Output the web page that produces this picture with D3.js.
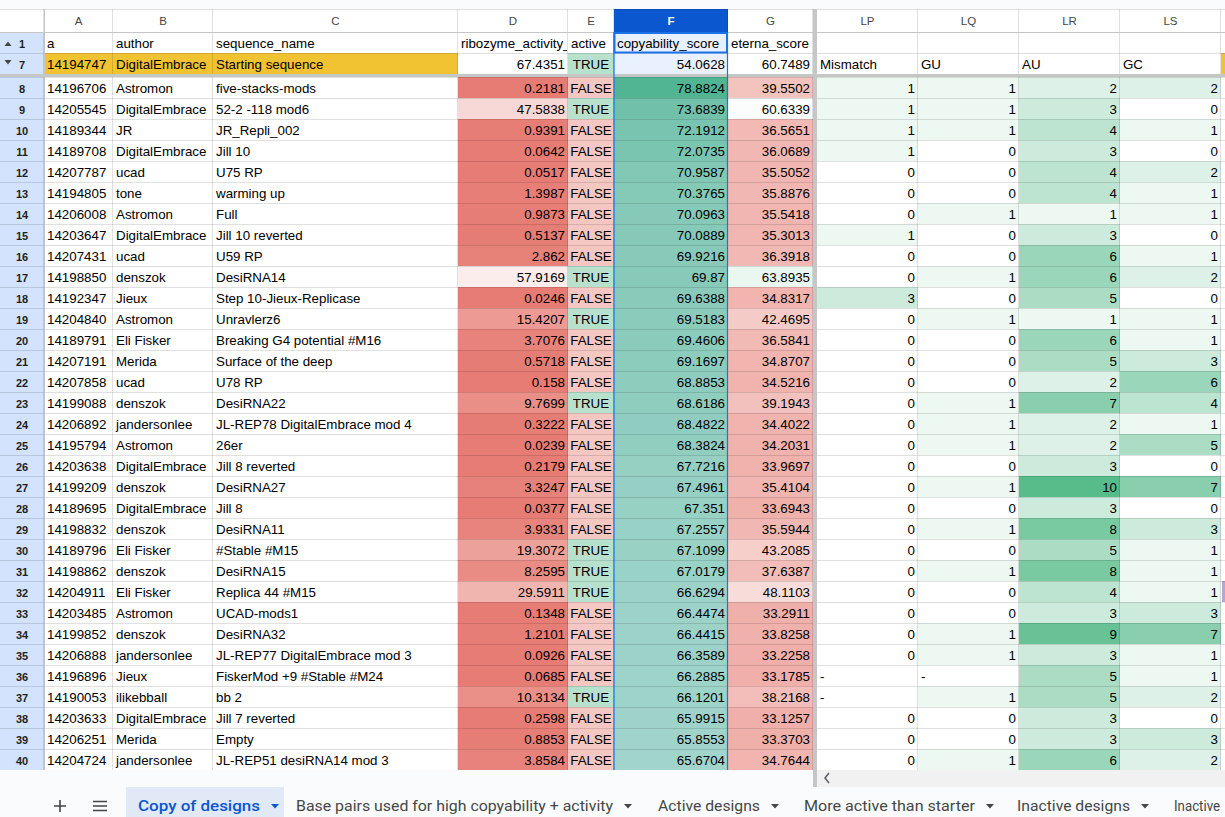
<!DOCTYPE html>
<html><head><meta charset="utf-8">
<script src="https://cdn.jsdelivr.net/npm/d3@7"></script>
<style>
body{margin:0;background:#f9fbfd;overflow:hidden}
svg{display:block;font-family:"Liberation Sans",Arial,sans-serif}
</style>
</head><body>
<svg id="c" width="1225" height="817"></svg>
<script>
// ---------------- DATA ----------------
const colLetters = ["A","B","C","D","E","F","G"];
const colLettersRight = ["LP","LQ","LR","LS"];
const headerLabels = ["a","author","sequence_name","ribozyme_activity_","active","copyability_score","eterna_score"];
const rightLabels = ["Mismatch","GU","AU","GC"];
const startValues = ["14194747","DigitalEmbrace","Starting sequence",67.4351,"TRUE",54.0628,60.7489];
const rowNumbers = d3.range(8, 41);
const ids = ["14196706","14205545","14189344","14189708","14207787","14194805","14206008","14203647","14207431","14198850","14192347","14204840","14189791","14207191","14207858","14199088","14206892","14195794","14203638","14199209","14189695","14198832","14189796","14198862","14204911","14203485","14199852","14206888","14196896","14190053","14203633","14206251","14204724"];
const authors = ["Astromon","DigitalEmbrace","JR","DigitalEmbrace","ucad","tone","Astromon","DigitalEmbrace","ucad","denszok","Jieux","Astromon","Eli Fisker","Merida","ucad","denszok","jandersonlee","Astromon","DigitalEmbrace","denszok","DigitalEmbrace","denszok","Eli Fisker","denszok","Eli Fisker","Astromon","denszok","jandersonlee","Jieux","ilikebball","DigitalEmbrace","Merida","jandersonlee"];
const names = ["five-stacks-mods","52-2 -118 mod6","JR_Repli_002","Jill 10","U75 RP","warming up","Full","Jill 10 reverted","U59 RP","DesiRNA14","Step 10-Jieux-Replicase","Unravlerz6","Breaking G4 potential #M16","Surface of the deep","U78 RP","DesiRNA22","JL-REP78 DigitalEmbrace mod 4","26er","Jill 8 reverted","DesiRNA27","Jill 8","DesiRNA11","#Stable #M15","DesiRNA15","Replica 44 #M15","UCAD-mods1","DesiRNA32","JL-REP77 DigitalEmbrace mod 3","FiskerMod +9 #Stable #M24","bb 2","Jill 7 reverted","Empty","JL-REP51 desiRNA14 mod 3"];
const activity = [0.2181,47.5838,0.9391,0.0642,0.0517,1.3987,0.9873,0.5137,2.862,57.9169,0.0246,15.4207,3.7076,0.5718,0.158,9.7699,0.3222,0.0239,0.2179,3.3247,0.0377,3.9331,19.3072,8.2595,29.5911,0.1348,1.2101,0.0926,0.0685,10.3134,0.2598,0.8853,3.8584];
const active = ["FALSE","TRUE","FALSE","FALSE","FALSE","FALSE","FALSE","FALSE","FALSE","TRUE","FALSE","TRUE","FALSE","FALSE","FALSE","TRUE","FALSE","FALSE","FALSE","FALSE","FALSE","FALSE","TRUE","TRUE","TRUE","FALSE","FALSE","FALSE","FALSE","TRUE","FALSE","FALSE","FALSE"];
const copyability = [78.8824,73.6839,72.1912,72.0735,70.9587,70.3765,70.0963,70.0889,69.9216,69.87,69.6388,69.5183,69.4606,69.1697,68.8853,68.6186,68.4822,68.3824,67.7216,67.4961,67.351,67.2557,67.1099,67.0179,66.6294,66.4474,66.4415,66.3589,66.2885,66.1201,65.9915,65.8553,65.6704];
const eterna = [39.5502,60.6339,36.5651,36.0689,35.5052,35.8876,35.5418,35.3013,36.3918,63.8935,34.8317,42.4695,36.5841,34.8707,34.5216,39.1943,34.4022,34.2031,33.9697,35.4104,33.6943,35.5944,43.2085,37.6387,48.1103,33.2911,33.8258,33.2258,33.1785,38.2168,33.1257,33.3703,34.7644];
const mismatch = [1,1,1,1,0,0,0,1,0,0,3,0,0,0,0,0,0,0,0,0,0,0,0,0,0,0,0,0,"-","-",0,0,0];
const gu = [1,1,1,0,0,0,1,0,0,1,0,1,0,0,0,1,1,1,0,1,0,1,0,1,0,0,1,1,"-",1,0,0,1];
const au = [2,3,4,3,4,4,1,3,6,6,5,1,6,5,2,7,2,2,3,10,3,8,5,8,4,3,9,3,5,5,3,3,6];
const gc = [2,0,1,0,2,1,1,0,1,2,0,1,1,3,6,4,1,5,0,7,0,3,1,1,1,3,7,1,1,2,0,3,2];
const tabLabels = ["Copy of designs","Base pairs used for high copyability + activity","Active designs","More active than starter","Inactive designs","Inactive"];

// ---------------- LAYOUT ----------------
const leftWidths = [44,69,100,245,110,46,114,85];   // row header + A..G
const rightStart = 817;
const rightWidths = [101,101,101,101];
const leftEdges = leftWidths.reduce((a,w)=>{a.push(a[a.length-1]+w);return a;},[0]);
const rightEdges = rightWidths.reduce((a,w)=>{a.push(a[a.length-1]+w);return a;},[rightStart]);
const colHdr = [9,32], row1 = [32,53], row7 = [53,74];
const yRow = d3.scaleLinear().domain([8,41]).range([77,770]);
const tabX = [138,296,658,804,1017,1174];
const tabW = [122,317,102,171,113,46];

const svg = d3.select("#c");
const FS = "13.33px";
const grid = "rgba(0,0,0,0.12)";

// ---------------- SCALES ----------------
const actScale = d3.scaleLinear().domain([d3.min(activity), startValues[3]]).range(["#e67c73","#ffffff"]).clamp(true);
const copyBase = d3.scaleLinear().domain([startValues[5], d3.max(copyability)]).range(["#ffffff","#57bb8a"]).clamp(true);
const selTint = c => d3.interpolateRgb(c, "#1a73e8")(0.1);
const eternaScale = d3.scaleLinear().domain([16.3, 59.5, 95]).range(["#e67c73","#ffffff","#57bb8a"]).clamp(true);
const pairScale = d3.scaleLinear().domain([0,10]).range(["#ffffff","#57bb8a"]).clamp(true);
const boolFill = v => v === "TRUE" ? "#b7e1cd" : "#f4c7c3";

// ---------------- HELPERS ----------------
const defs = svg.append("defs");
function clipFor(id, x0, x1){
  defs.append("clipPath").attr("id", id).append("rect").attr("x", x0).attr("y", 0).attr("width", x1-x0).attr("height", 817);
  return "url(#"+id+")";
}
const gFill = svg.append("g");
const gGrid = svg.append("g");
const gText = svg.append("g");
const gTop = svg.append("g");

function cell(x0, x1, y0, y1, fill, text, align, clip){
  if (fill) gFill.append("rect").attr("x", x0).attr("y", y0).attr("width", x1-x0).attr("height", y1-y0).attr("fill", fill);
  if (text === undefined || text === null || text === "") return;
  let tx = align === "right" ? x1-3 : align === "middle" ? (x0+x1)/2 : x0+3;
  const t = gText.append("text").attr("x", tx).attr("y", y0 + (y1-y0)/2 + 5.8)
    .attr("text-anchor", align === "right" ? "end" : align === "middle" ? "middle" : "start")
    .attr("font-size", FS).attr("fill", "#000").text(text);
  if (clip) t.attr("clip-path", clip);
}
function fmt(v){ return typeof v === "number" ? String(v) : v; }
function alignOf(v, colIdx){ if (colIdx === 4) return "middle"; return typeof v === "number" ? "right" : "left"; }

gFill.append("rect").attr("x",0).attr("y",9).attr("width",1225).attr("height",761).attr("fill","#ffffff");
gFill.append("rect").attr("x",0).attr("y",0).attr("width",1225).attr("height",9).attr("fill","#f9fbfd");

// ---------------- COLUMN HEADERS ----------------
colLetters.forEach((L,i)=>{
  const x0 = leftEdges[i+1], x1 = leftEdges[i+2];
  const sel = L === "F";
  gFill.append("rect").attr("x",x0).attr("y",colHdr[0]).attr("width",x1-x0).attr("height",colHdr[1]-colHdr[0]).attr("fill", sel ? "#0b57d0" : "#ffffff");
  gText.append("text").attr("x",(x0+x1)/2).attr("y",colHdr[0]+15.5).attr("text-anchor","middle")
    .attr("font-size","11.5px").attr("font-weight", sel ? "bold":"normal").attr("fill", sel ? "#ffffff" : "#444746").text(L);
});
colLettersRight.forEach((L,i)=>{
  const x0 = rightEdges[i], x1 = rightEdges[i+1];
  gText.append("text").attr("x",(x0+x1)/2).attr("y",colHdr[0]+15.5).attr("text-anchor","middle")
    .attr("font-size","11.5px").attr("fill","#444746").text(L);
});

// ---------------- ROW HEADERS ----------------
const rowHdrRows = [[1,row1],[7,row7]].concat(rowNumbers.map(r=>[r,[yRow(r),yRow(r+1)]]));
rowHdrRows.forEach(([n,[y0,y1]])=>{
  gFill.append("rect").attr("x",0).attr("y",y0).attr("width",44).attr("height",y1-y0).attr("fill","#d3e3fd");
  gText.append("text").attr("x",22).attr("y",(y0+y1)/2+5.2).attr("text-anchor","middle")
    .attr("font-size","11px").attr("font-weight","bold").attr("fill","#1f1f1f").text(n);
});
gText.append("path").attr("d","M4.5,46 L8,41.5 L11.5,46 Z").attr("fill","#444746");
gText.append("path").attr("d","M4.5,60 L8,64.5 L11.5,60 Z").attr("fill","#444746");

// ---------------- ROW 1 ----------------
headerLabels.forEach((h,i)=>{
  const x0 = leftEdges[i+1], x1 = leftEdges[i+2];
  cell(x0, x1, row1[0], row1[1], i===5 ? "#e8f0fe" : null, h, "left", clipFor("c1_"+i, x0, x1-1));
});

// ---------------- ROW 7 (starting) ----------------
startValues.forEach((v,i)=>{
  const x0 = leftEdges[i+1], x1 = leftEdges[i+2];
  let fill = "#ffffff";
  if (i < 3) fill = "#f1c232";
  if (i === 4) fill = boolFill(v);
  if (i === 5) fill = selTint(copyBase(v));
  cell(x0, x1, row7[0], row7[1], fill, fmt(v), alignOf(v,i));
});
rightLabels.forEach((v,i)=> cell(rightEdges[i], rightEdges[i+1], row7[0], row7[1], "#ffffff", v, "left"));
gFill.append("rect").attr("x",rightEdges[4]).attr("y",row7[0]).attr("width",4).attr("height",row7[1]-row7[0]).attr("fill","#f1c232");

// ---------------- DATA ROWS ----------------
rowNumbers.forEach((r,k)=>{
  const y0 = yRow(r), y1 = yRow(r+1);
  const vals = [ids[k], authors[k], names[k], activity[k], active[k], copyability[k], eterna[k]];
  vals.forEach((v,i)=>{
    const x0 = leftEdges[i+1], x1 = leftEdges[i+2];
    let fill = null;
    if (i === 3) fill = actScale(v);
    if (i === 4) fill = boolFill(v);
    if (i === 5) fill = selTint(copyBase(v));
    if (i === 6) fill = eternaScale(v);
    cell(x0, x1, y0, y1, fill, fmt(v), alignOf(v,i), i===2 ? clipFor("cr"+k, x0, x1-1) : null);
  });
  [mismatch[k], gu[k], au[k], gc[k]].forEach((v,i)=>{
    const fill = typeof v === "number" ? pairScale(v) : null;
    cell(rightEdges[i], rightEdges[i+1], y0, y1, fill, fmt(v), typeof v === "number" ? "right" : "left");
  });
});
gFill.append("rect").attr("x",rightEdges[4]+1).attr("y",yRow(32)).attr("width",3).attr("height",21).attr("fill","#b4a7d6");

// ---------------- GRID LINES ----------------
const hLines = [colHdr[0], row1[0], row1[1]].concat(d3.range(8,42).map(r=>yRow(r)));
hLines.forEach(y=>{
  gGrid.append("line").attr("x1",0).attr("x2",1225).attr("y1",y+0.5).attr("y2",y+0.5).attr("stroke",grid);
});
const vLines = leftEdges.slice(1).concat(rightEdges);
vLines.forEach(x=>{
  gGrid.append("line").attr("x1",x-0.5).attr("x2",x-0.5).attr("y1",colHdr[0]).attr("y2",770).attr("stroke",grid);
});
gTop.append("line").attr("x1",0).attr("x2",1225).attr("y1",32.5).attr("y2",32.5).attr("stroke","#c4c7c5");
gTop.append("line").attr("x1",44.5).attr("x2",44.5).attr("y1",9).attr("y2",770).attr("stroke","#c4c7c5");
gTop.append("rect").attr("x",0).attr("y",74).attr("width",1225).attr("height",3).attr("fill","#c4c7c5");
gTop.append("rect").attr("x",813).attr("y",9).attr("width",4).attr("height",778).attr("fill","#c4c7c5");
gTop.append("line").attr("x1",614).attr("x2",614).attr("y1",32).attr("y2",770).attr("stroke","#1a73e8").attr("stroke-width",1.2);
gTop.append("line").attr("x1",727.5).attr("x2",727.5).attr("y1",32).attr("y2",770).attr("stroke","#1a73e8").attr("stroke-width",1.2);
gTop.append("rect").attr("x",614.5).attr("y",33).attr("width",112.5).attr("height",19.5).attr("fill","none").attr("stroke","#1a73e8").attr("stroke-width",2);

// ---------------- SCROLLBAR ----------------
gTop.append("rect").attr("x",0).attr("y",770).attr("width",813).attr("height",17).attr("fill","#f9fbfd");
gTop.append("rect").attr("x",817).attr("y",770).attr("width",408).attr("height",17).attr("fill","#f1f1f1");
gTop.append("path").attr("d","M829,773 L825,778 L829,783").attr("fill","none").attr("stroke","#5f6368").attr("stroke-width",1.6);

// ---------------- TABS ----------------
gTop.append("rect").attr("x",0).attr("y",787).attr("width",1225).attr("height",30).attr("fill","#f9fbfd");
gTop.append("rect").attr("x",126).attr("y",787).attr("width",158).attr("height",30).attr("fill","#e1e9f7");
gTop.append("path").attr("d","M54,806 H66 M60,800 V812").attr("stroke","#444746").attr("stroke-width",1.6);
gTop.append("path").attr("d","M93,801.5 H107 M93,806 H107 M93,810.5 H107").attr("stroke","#444746").attr("stroke-width",1.5);
tabLabels.forEach((t,i)=>{
  const activeTab = i === 0;
  const col = activeTab ? "#0b57d0" : "#444746";
  gTop.append("text").attr("x",tabX[i]).attr("y",811)
    .attr("font-family","Roboto, 'Open Sans', sans-serif").attr("font-size","15px")
    .attr("font-weight", activeTab ? 500 : 400).attr("fill",col)
    .attr("textLength", tabW[i]).attr("lengthAdjust","spacingAndGlyphs").text(t);
  if (i < tabLabels.length-1){
    const ax = tabX[i] + tabW[i] + 11;
    gTop.append("path").attr("d",`M${ax},804 L${ax+8},804 L${ax+4},808.5 Z`).attr("fill",col);
  }
});
</script>
</body></html>
